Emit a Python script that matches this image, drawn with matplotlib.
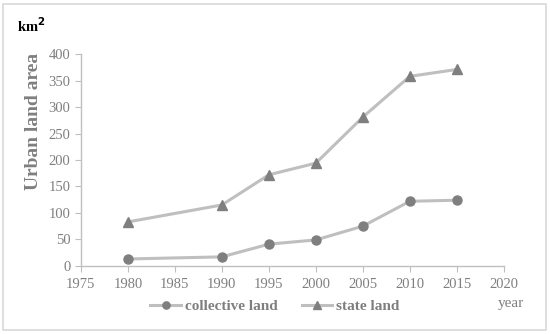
import matplotlib
matplotlib.use('Agg')
import matplotlib.pyplot as plt
from matplotlib.patches import Rectangle

years = [1980, 1990, 1995, 2000, 2005, 2010, 2015]
collective_land = [13, 17, 41, 49, 75, 122, 124]
state_land = [83, 115, 172, 194, 281, 358, 371]

x_ticks = [1975, 1980, 1985, 1990, 1995, 2000, 2005, 2010, 2015, 2020]
y_ticks = [0, 50, 100, 150, 200, 250, 300, 350, 400]

line_color = '#bfbfbf'
marker_color = '#7f7f7f'
text_grey = '#7f7f7f'

plt.rcParams['font.family'] = ['Liberation Serif', 'DejaVu Serif']

fig = plt.figure(figsize=(5.5, 3.34), dpi=100)
ax = fig.add_axes([0.147, 0.204, 0.769, 0.634])

ax.plot(years, collective_land, color=line_color, lw=2.2, marker='o',
        markersize=6.5, markerfacecolor=marker_color, markeredgecolor=marker_color,
        label='collective land')
ax.plot(years, state_land, color=line_color, lw=2.2, marker='^',
        markersize=7.5, markerfacecolor=marker_color, markeredgecolor=marker_color,
        label='state land')

ax.set_xlim(1975, 2020)
ax.set_ylim(0, 400)
ax.set_xticks(x_ticks)
ax.set_yticks(y_ticks)

for side in ['top', 'right']:
    ax.spines[side].set_visible(False)
for side in ['left', 'bottom']:
    ax.spines[side].set_color('#bfbfbf')
    ax.spines[side].set_linewidth(1.0)

ax.tick_params(axis='both', colors='#bfbfbf', labelcolor=text_grey,
               labelsize=10.5, length=4, direction='out')
ax.tick_params(axis='x', pad=5)

ax.set_ylabel('Urban land area', fontsize=14, fontweight='bold',
              color=text_grey)
ax.yaxis.set_label_coords(-0.092, 0.68)

fig.text(0.031, 0.905, 'km$^\\mathbf{2}$', fontsize=10.5, fontweight='bold',
         color='black', ha='left', va='baseline')
fig.text(0.905, 0.08, 'year', fontsize=11, color=text_grey,
         ha='left', va='baseline')

leg = fig.legend(loc='center', bbox_to_anchor=(0.5, 0.082), ncol=2,
                 frameon=False, handlelength=2.0, columnspacing=1.6,
                 handletextpad=0.25, markerscale=0.8,
                 prop={'weight': 'bold', 'size': 11})
for t in leg.get_texts():
    t.set_color(text_grey)

fig.patches.append(Rectangle((0.006, 0.012), 0.986, 0.976,
                             transform=fig.transFigure, fill=False,
                             edgecolor='#d9d9d9', lw=1.2))

fig.savefig('out.png', dpi=100)
